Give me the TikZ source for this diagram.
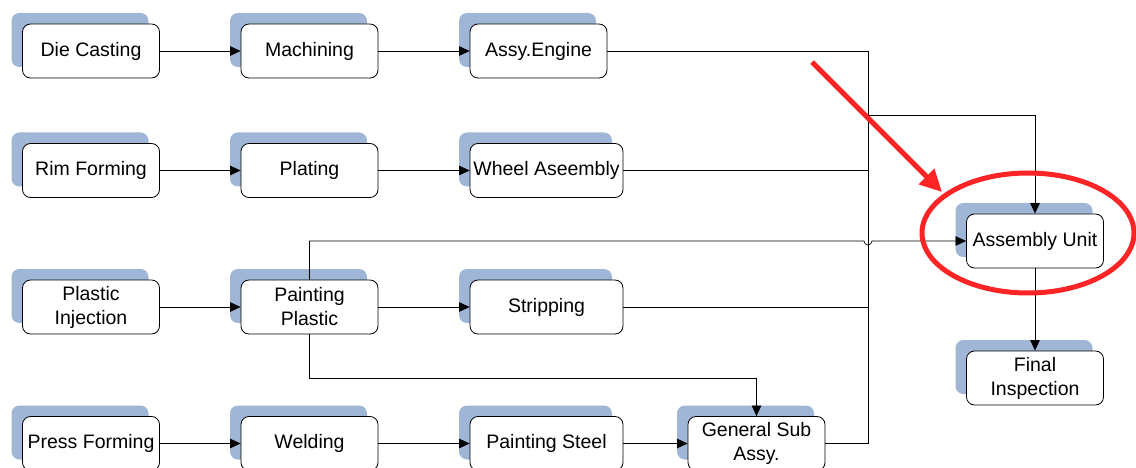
\documentclass[tikz,border=0pt]{standalone}
\usepackage{fontspec}
\setmainfont{Liberation Sans}
\usetikzlibrary{arrows.meta}
\definecolor{shadowc}{RGB}{160,182,214}
\definecolor{redmark}{RGB}{252,36,36}
\tikzset{
  pbox/.style={draw=black, line width=0.8pt, rounded corners=8pt, fill=white,
    minimum width=137pt, minimum height=54pt, align=center, inner sep=2pt,
    font=\fontsize{19.5}{24}\selectfont,
    preaction={fill=shadowc, rounded corners=8pt, transform canvas={shift={(-11pt,11pt)}}}},
  wbox/.style={pbox, minimum width=153pt},
  conn/.style={line width=0.7pt, -{Triangle[length=10.5pt,width=9.5pt]}},
  plain/.style={line width=0.7pt},
  redline/.style={draw=redmark, line width=5pt}
}
\begin{document}
\begin{tikzpicture}[x=1pt,y=-1pt]
\useasboundingbox (0,0) rectangle (1136,468);
\fill[white] (0,0) rectangle (1136,468);
% nodes
\node[pbox] (dc) at (91,51) {Die Casting};
\node[pbox] (mach) at (309.5,51) {Machining};
\node[pbox] (eng) at (538.5,51) {Assy.Engine};
\node[pbox] (rim) at (91,170.5) {Rim Forming};
\node[pbox] (plat) at (309.5,170.5) {Plating};
\node[wbox] (wheel) at (546.5,170.5) {Wheel Aseembly};
\node[pbox] (pinj) at (91,307) {Plastic\\Injection};
\node[pbox] (ppl) at (309.5,307) {Painting\\Plastic};
\node[wbox] (strip) at (546.5,307) {Stripping};
\node[pbox] (press) at (91,443.5) {Press Forming};
\node[pbox] (weld) at (309.5,443.5) {Welding};
\node[wbox] (psteel) at (546.5,443.5) {Painting Steel};
\node[pbox] (gsub) at (756.5,443.5) {General Sub\\Assy.};
\node[pbox] (au) at (1035,241) {Assembly Unit};
\node[pbox] (fi) at (1035,378) {Final\\Inspection};
% coordinates
\coordinate (bustop) at (868,51);
\coordinate (busbot) at (868,443.5);
\coordinate (busau) at (868,115);
\coordinate (auin) at (1035,115);
\coordinate (pplup) at (309.5,241);
\coordinate (hopL) at (864,241);
\coordinate (ppldn) at (309.5,378);
\coordinate (gsdn) at (756.5,378);
% row connectors
\draw[conn] (dc) -- (mach);
\draw[conn] (mach) -- (eng);
\draw[conn] (rim) -- (plat);
\draw[conn] (plat) -- (wheel);
\draw[conn] (pinj) -- (ppl);
\draw[conn] (ppl) -- (strip);
\draw[conn] (press) -- (weld);
\draw[conn] (weld) -- (psteel);
\draw[conn] (psteel) -- (gsub);
% bus
\draw[plain] (eng.east) -- (bustop) -- (busbot) -- (gsub.east);
\draw[plain] (wheel.east) -- (wheel.east -| bustop);
\draw[plain] (strip.east) -- (strip.east -| bustop);
\draw[conn] (busau) -- (auin) -- (au.north);
% painting plastic branches
\draw[conn] (ppl.north) -- (pplup) -- (hopL) arc[start angle=180, end angle=0, radius=4] -- (au.west);
\draw[conn] (ppl.south) -- (ppldn) -- (gsdn) -- (gsub.north);
\draw[conn] (au) -- (fi);
% red highlight
\coordinate (rs) at (812,62);
\coordinate (re) at (942,192);
\draw[redline, -{Triangle[length=22pt,width=21pt]}] (rs) -- (re);
\draw[redline] (1028,233) ellipse [x radius=106, y radius=60];
\end{tikzpicture}
\end{document}
